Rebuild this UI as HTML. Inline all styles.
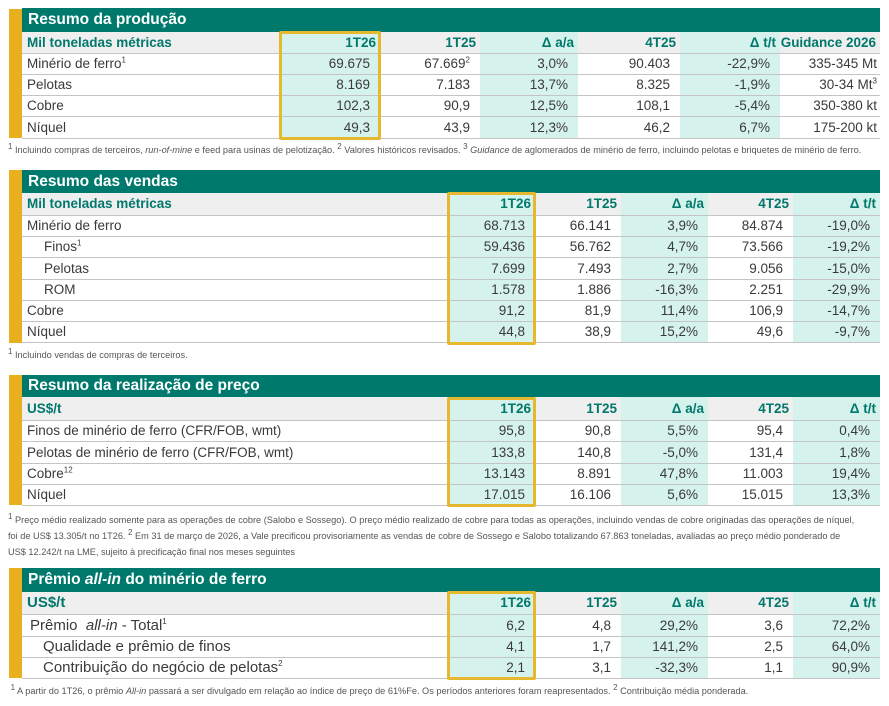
<!DOCTYPE html>
<html><head><meta charset="utf-8"><style>
body{margin:0;width:889px;height:706px;background:#fff;position:relative;overflow:hidden;font-family:"Liberation Sans",sans-serif;color:#3a3a3a}
.bar{position:absolute;left:9px;width:13px;background:#e8b01f}
.hd{position:absolute;left:22px;width:858px;background:#00796d;color:#fff;font-weight:bold;font-size:15.5px;box-sizing:border-box;padding-left:6px}
table{position:absolute;left:22px;border-collapse:collapse;table-layout:fixed;width:858px;font-size:13.5px}
td{padding:0 10px 0 0;text-align:right;border-bottom:1px solid #c4c4c4;white-space:nowrap;overflow:visible}
td.l{text-align:left;padding-left:5px}
td.i{padding-left:22px}
tr.sub td{background:#efefef;color:#00786c;font-weight:bold;padding-right:4px}
tr.sub td.s,td.s{background:#d6f2ec}
.box{position:absolute;border:3px solid #e6b82e;box-sizing:border-box;border-radius:2px}
.fn{position:absolute;left:8px;font-size:9.2px;color:#555;line-height:16px;white-space:nowrap}
sup{font-size:8px;line-height:0}
.big td.l{font-size:15px}
</style></head><body>

<!-- Section 1 -->
<div class="bar" style="top:9px;height:129px"></div>
<div class="hd" style="top:8px;height:24px;line-height:24px">Resumo da produção</div>
<table style="top:32px">
<colgroup><col style="width:258px"><col style="width:100px"><col style="width:100px"><col style="width:98px"><col style="width:102px"><col style="width:100px"><col style="width:100px"></colgroup>
<tr class="sub" style="height:21px"><td class="l">Mil toneladas métricas</td><td class="s">1T26</td><td>1T25</td><td class="s">Δ a/a</td><td>4T25</td><td class="s">Δ t/t</td><td>Guidance 2026</td></tr>
<tr style="height:21px"><td class="l">Minério de ferro<sup>1</sup></td><td class="s">69.675</td><td>67.669<sup>2</sup></td><td class="s">3,0%</td><td>90.403</td><td class="s">-22,9%</td><td style="padding-right:3px">335-345 Mt</td></tr>
<tr style="height:21px"><td class="l">Pelotas</td><td class="s">8.169</td><td>7.183</td><td class="s">13,7%</td><td>8.325</td><td class="s">-1,9%</td><td style="padding-right:3px">30-34 Mt<sup>3</sup></td></tr>
<tr style="height:21px"><td class="l">Cobre</td><td class="s">102,3</td><td>90,9</td><td class="s">12,5%</td><td>108,1</td><td class="s">-5,4%</td><td style="padding-right:3px">350-380 kt</td></tr>
<tr style="height:22px"><td class="l">Níquel</td><td class="s">49,3</td><td>43,9</td><td class="s">12,3%</td><td>46,2</td><td class="s">6,7%</td><td style="padding-right:3px">175-200 kt</td></tr>
</table>
<div class="box" style="left:279px;top:31px;width:102px;height:109px"></div>
<div class="fn" style="top:142px"><sup>1</sup> Incluindo compras de terceiros, <i>run-of-mine</i> e feed para usinas de pelotização. <sup>2</sup> Valores históricos revisados. <sup>3</sup> <i>Guidance</i> de aglomerados de minério de ferro, incluindo pelotas e briquetes de minério de ferro.</div>

<!-- Section 2 -->
<div class="bar" style="top:170px;height:173px"></div>
<div class="hd" style="top:170px;height:23px;line-height:23px">Resumo das vendas</div>
<table style="top:193px">
<colgroup><col style="width:426px"><col style="width:87px"><col style="width:86px"><col style="width:87px"><col style="width:85px"><col style="width:87px"></colgroup>
<tr class="sub" style="height:22px"><td class="l">Mil toneladas métricas</td><td class="s">1T26</td><td>1T25</td><td class="s">Δ a/a</td><td>4T25</td><td class="s">Δ t/t</td></tr>
<tr style="height:21px"><td class="l">Minério de ferro</td><td class="s">68.713</td><td>66.141</td><td class="s">3,9%</td><td>84.874</td><td class="s">-19,0%</td></tr>
<tr style="height:21px"><td class="l i">Finos<sup>1</sup></td><td class="s">59.436</td><td>56.762</td><td class="s">4,7%</td><td>73.566</td><td class="s">-19,2%</td></tr>
<tr style="height:22px"><td class="l i">Pelotas</td><td class="s">7.699</td><td>7.493</td><td class="s">2,7%</td><td>9.056</td><td class="s">-15,0%</td></tr>
<tr style="height:21px"><td class="l i">ROM</td><td class="s">1.578</td><td>1.886</td><td class="s">-16,3%</td><td>2.251</td><td class="s">-29,9%</td></tr>
<tr style="height:21px"><td class="l">Cobre</td><td class="s">91,2</td><td>81,9</td><td class="s">11,4%</td><td>106,9</td><td class="s">-14,7%</td></tr>
<tr style="height:21px"><td class="l">Níquel</td><td class="s">44,8</td><td>38,9</td><td class="s">15,2%</td><td>49,6</td><td class="s">-9,7%</td></tr>
</table>
<div class="box" style="left:447px;top:192px;width:89px;height:153px"></div>
<div class="fn" style="top:347px"><sup>1</sup> Incluindo vendas de compras de terceiros.</div>

<!-- Section 3 -->
<div class="bar" style="top:375px;height:130px"></div>
<div class="hd" style="top:375px;height:22px;line-height:22px">Resumo da realização de preço</div>
<table style="top:397px">
<colgroup><col style="width:426px"><col style="width:87px"><col style="width:86px"><col style="width:87px"><col style="width:85px"><col style="width:87px"></colgroup>
<tr class="sub" style="height:23px"><td class="l">US$/t</td><td class="s">1T26</td><td>1T25</td><td class="s">Δ a/a</td><td>4T25</td><td class="s">Δ t/t</td></tr>
<tr style="height:21px"><td class="l">Finos de minério de ferro (CFR/FOB, wmt)</td><td class="s">95,8</td><td>90,8</td><td class="s">5,5%</td><td>95,4</td><td class="s">0,4%</td></tr>
<tr style="height:22px"><td class="l">Pelotas de minério de ferro (CFR/FOB, wmt)</td><td class="s">133,8</td><td>140,8</td><td class="s">-5,0%</td><td>131,4</td><td class="s">1,8%</td></tr>
<tr style="height:21px"><td class="l">Cobre<sup>12</sup></td><td class="s">13.143</td><td>8.891</td><td class="s">47,8%</td><td>11.003</td><td class="s">19,4%</td></tr>
<tr style="height:21px"><td class="l">Níquel</td><td class="s">17.015</td><td>16.106</td><td class="s">5,6%</td><td>15.015</td><td class="s">13,3%</td></tr>
</table>
<div class="box" style="left:447px;top:397px;width:89px;height:110px"></div>
<div class="fn" style="top:512px"><sup>1</sup> Preço médio realizado somente para as operações de cobre (Salobo e Sossego). O preço médio realizado de cobre para todas as operações, incluindo vendas de cobre originadas das operações de níquel,<br>foi de US$ 13.305/t no 1T26. <sup>2</sup> Em 31 de março de 2026, a Vale precificou provisoriamente as vendas de cobre de Sossego e Salobo totalizando 67.863 toneladas, avaliadas ao preço médio ponderado de<br>US$ 12.242/t na LME, sujeito à precificação final nos meses seguintes</div>

<!-- Section 4 -->
<div class="bar" style="top:568px;height:110px"></div>
<div class="hd" style="top:568px;height:24px;line-height:24px">Prêmio <i>all-in</i> do minério de ferro</div>
<table class="big" style="top:592px">
<colgroup><col style="width:426px"><col style="width:87px"><col style="width:86px"><col style="width:87px"><col style="width:85px"><col style="width:87px"></colgroup>
<tr class="sub" style="height:22px"><td class="l">US$/t</td><td class="s">1T26</td><td>1T25</td><td class="s">Δ a/a</td><td>4T25</td><td class="s">Δ t/t</td></tr>
<tr style="height:22px"><td class="l" style="padding-left:8px">Prêmio &nbsp;<i>all-in</i> - Total<sup>1</sup></td><td class="s">6,2</td><td>4,8</td><td class="s">29,2%</td><td>3,6</td><td class="s">72,2%</td></tr>
<tr style="height:21px"><td class="l" style="padding-left:21px">Qualidade e prêmio de finos</td><td class="s">4,1</td><td>1,7</td><td class="s">141,2%</td><td>2,5</td><td class="s">64,0%</td></tr>
<tr style="height:21px"><td class="l" style="padding-left:21px">Contribuição do negócio de pelotas<sup>2</sup></td><td class="s">2,1</td><td>3,1</td><td class="s">-32,3%</td><td>1,1</td><td class="s">90,9%</td></tr>
</table>
<div class="box" style="left:447px;top:591px;width:89px;height:89px"></div>
<div class="fn" style="top:683px">&nbsp;<sup>1</sup> A partir do 1T26, o prêmio <i>All-in</i> passará a ser divulgado em relação ao índice de preço de 61%Fe. Os períodos anteriores foram reapresentados. <sup>2</sup> Contribuição média ponderada.</div>
</body></html>
